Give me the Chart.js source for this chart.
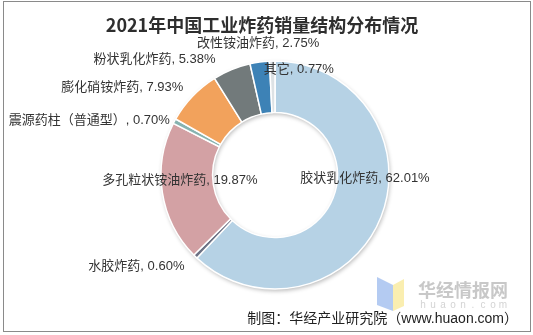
<!DOCTYPE html>
<html>
<head>
<meta charset="utf-8">
<script src="https://cdn.jsdelivr.net/npm/chart.js@4.4.0/dist/chart.umd.min.js"></script>
<style>
body { margin: 0; background: #fff; }
</style>
</head>
<body>
<canvas id="chart" width="533" height="335"></canvas>
<script>
// data
var chartTitle = "2021年中国工业炸药销量结构分布情况";
var sourceNote = "制图：华经产业研究院（www.huaon.com）";
var categories = ["胶状乳化炸药", "水胶炸药", "多孔粒状铵油炸药", "震源药柱（普通型）", "膨化硝铵炸药", "粉状乳化炸药", "改性铵油炸药", "其它"];
var shares = [62.01, 0.60, 19.87, 0.70, 7.93, 5.38, 2.75, 0.77];

var sliceColors = ["#b6d2e5", "#6c7184", "#d3a1a4", "#86b3b0", "#f2a25c", "#727a7b", "#3d82b6", "#dde2e5"];
// where each label sits, relative to the middle of its slice
var labelShift = [[8, -29], [-77, 28], [-8, -8], [-108, -13], [-89, -27], [-87, -34], [-5, -44], [26, -17]];

var labelFont = "13px 'Liberation Sans', 'Noto Sans CJK SC', sans-serif";

// white page, frame, title, watermark and ring shadow
var pagePlugin = {
    id: 'page',
    beforeDraw: function(chart) {
        var ctx = chart.ctx;
        ctx.save();
        ctx.fillStyle = '#fff';
        ctx.fillRect(0, 0, chart.width, chart.height);
        ctx.strokeStyle = '#8a8a8a';
        ctx.lineWidth = 1;
        ctx.strokeRect(3.5, 1.5, 527, 330);

        ctx.fillStyle = '#2e2e2e';
        ctx.font = "bold 18px 'Noto Sans CJK SC', sans-serif";
        ctx.textAlign = 'center';
        ctx.textBaseline = 'middle';
        ctx.fillText(chartTitle, 262, 25);

        // watermark logo
        ctx.fillStyle = 'rgba(140,175,235,0.65)';
        ctx.beginPath();
        ctx.moveTo(377, 277); ctx.lineTo(393, 285); ctx.lineTo(393, 311); ctx.lineTo(377, 305);
        ctx.closePath(); ctx.fill();
        ctx.fillStyle = 'rgba(248,232,150,0.75)';
        ctx.beginPath();
        ctx.moveTo(393, 285); ctx.lineTo(404, 279); ctx.lineTo(404, 306); ctx.lineTo(393, 311);
        ctx.closePath(); ctx.fill();
        ctx.fillStyle = '#c8c8c8';
        ctx.font = "bold 18px 'Noto Sans CJK SC', sans-serif";
        ctx.textAlign = 'left';
        ctx.fillText("华经情报网", 418, 290);
        ctx.fillStyle = '#d4d4d4';
        ctx.font = "10px 'Liberation Sans', sans-serif";
        ctx.textAlign = 'center';
        "huaon.com".split("").forEach(function(c, i) {
            ctx.fillText(c, 423 + i * 10, 305);
        });
        ctx.restore();
    },
    beforeDatasetsDraw: function(chart) {
        var arc = chart.getDatasetMeta(0).data[0];
        if (!arc) return;
        var ctx = chart.ctx;
        ctx.save();
        ctx.shadowColor = 'rgba(0,0,0,0.28)';
        ctx.shadowBlur = 4;
        ctx.shadowOffsetX = 1;
        ctx.shadowOffsetY = 2;
        ctx.fillStyle = '#fff';
        ctx.beginPath();
        ctx.arc(arc.x, arc.y, arc.outerRadius, 0, Math.PI * 2);
        ctx.arc(arc.x, arc.y, arc.innerRadius, 0, Math.PI * 2, true);
        ctx.fill();
        ctx.restore();
    },
    afterDraw: function(chart) {
        var ctx = chart.ctx;
        ctx.save();
        ctx.fillStyle = '#222';
        ctx.font = "14px 'Liberation Sans', 'Noto Sans CJK SC', sans-serif";
        ctx.textAlign = 'right';
        ctx.textBaseline = 'middle';
        ctx.fillText(sourceNote, 518, 319);
        ctx.restore();
    }
};

// category, value labels
var labelPlugin = {
    id: 'sliceLabels',
    afterDatasetsDraw: function(chart) {
        var ctx = chart.ctx;
        ctx.save();
        ctx.font = labelFont;
        ctx.fillStyle = '#333';
        ctx.textAlign = 'center';
        ctx.textBaseline = 'middle';
        chart.getDatasetMeta(0).data.forEach(function(arc, i) {
            var p = arc.getCenterPoint();
            var text = categories[i] + ", " + shares[i].toFixed(2) + "%";
            ctx.fillText(text, p.x + labelShift[i][0], p.y + labelShift[i][1]);
        });
        ctx.restore();
    }
};

new Chart(document.getElementById('chart'), {
    type: 'doughnut',
    data: {
        labels: categories,
        datasets: [{
            data: shares,
            backgroundColor: sliceColors,
            borderColor: '#fff',
            borderWidth: 1.5,
            radius: 114,
            cutout: 62
        }]
    },
    options: {
        responsive: false,
        animation: false,
        layout: { padding: { top: 61, bottom: 46, left: 100, right: 83 } },
        plugins: {
            legend: { display: false },
            tooltip: { enabled: false }
        }
    },
    plugins: [pagePlugin, labelPlugin]
});
</script>
</body>
</html>
